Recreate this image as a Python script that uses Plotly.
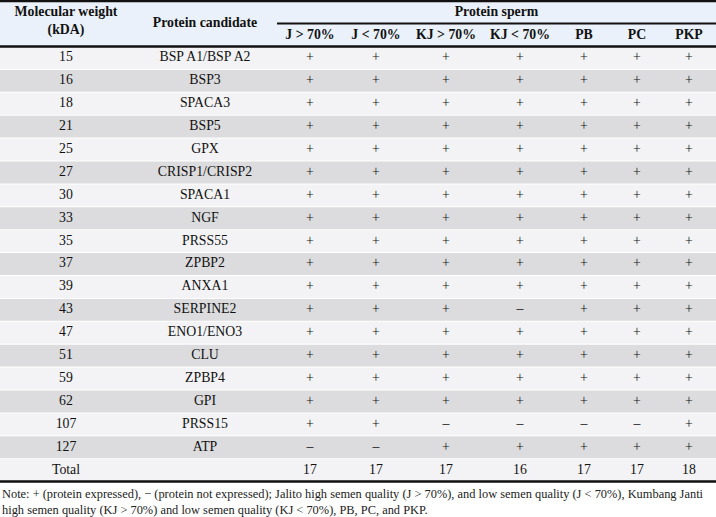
import plotly.graph_objects as go

# ---------------------------------------------------------------- data
mol_weight = ["15", "16", "18", "21", "25", "27", "30", "33", "35", "37",
              "39", "43", "47", "51", "59", "62", "107", "127"]
proteins = ["BSP A1/BSP A2", "BSP3", "SPACA3", "BSP5", "GPX", "CRISP1/CRISP2",
            "SPACA1", "NGF", "PRSS55", "ZPBP2", "ANXA1", "SERPINE2",
            "ENO1/ENO3", "CLU", "ZPBP4", "GPI", "PRSS15", "ATP"]
groups = ["J > 70%", "J < 70%", "KJ > 70%", "KJ < 70%", "PB", "PC", "PKP"]

# 1 = protein expressed (+), 0 = not expressed (–); one list per group
j_high = [1, 1, 1, 1, 1, 1, 1, 1, 1, 1, 1, 1, 1, 1, 1, 1, 1, 0]
j_low = [1, 1, 1, 1, 1, 1, 1, 1, 1, 1, 1, 1, 1, 1, 1, 1, 1, 0]
kj_high = [1, 1, 1, 1, 1, 1, 1, 1, 1, 1, 1, 1, 1, 1, 1, 1, 0, 1]
kj_low = [1, 1, 1, 1, 1, 1, 1, 1, 1, 1, 1, 0, 1, 1, 1, 1, 0, 1]
pb = [1, 1, 1, 1, 1, 1, 1, 1, 1, 1, 1, 1, 1, 1, 1, 1, 0, 1]
pc = [1, 1, 1, 1, 1, 1, 1, 1, 1, 1, 1, 1, 1, 1, 1, 1, 0, 1]
pkp = [1, 1, 1, 1, 1, 1, 1, 1, 1, 1, 1, 1, 1, 1, 1, 1, 1, 1]
totals = [17, 17, 17, 16, 17, 17, 18]

note = ("Note: + (protein expressed), \u2212 (protein not expressed); Jalito high semen quality "
        "(J > 70%), and low semen quality (J < 70%), Kumbang Janti<br>high semen quality "
        "(KJ > 70%) and low semen quality (KJ < 70%), PB, PC, and PKP.")

# ---------------------------------------------------------------- layout
W, H = 716, 517
COL_X = [66, 205, 310, 376, 446, 520, 584, 637, 689]
SPERM_LEFT = 277
HEAD_TOP = 1
HEAD_MID = 23.5
HEAD_BOT = 46.5
ROW_H = 22.9
FONT = "Liberation Serif, Times New Roman, serif"
FS = 13.8
HEAD_BG = "#eaf1fa"
ROW_BG = ["#f3f3f5", "#dcdcde"]

series = [j_high, j_low, kj_high, kj_low, pb, pc, pkp]
n_rows = len(proteins) + 1  # plus total row


def row_center(i):
    return HEAD_BOT + (i + 0.5) * ROW_H


table_bottom = HEAD_BOT + n_rows * ROW_H

fig = go.Figure()

# body text
xs, ys, ts = [], [], []
for i in range(len(proteins)):
    xs += [COL_X[0], COL_X[1]]
    ys += [row_center(i)] * 2
    ts += [mol_weight[i], proteins[i]]
    for g, s in enumerate(series):
        xs.append(COL_X[2 + g])
        ys.append(row_center(i))
        ts.append("+" if s[i] else "\u2013")
xs.append(COL_X[0])
ys.append(row_center(len(proteins)))
ts.append("Total")
for g, t in enumerate(totals):
    xs.append(COL_X[2 + g])
    ys.append(row_center(len(proteins)))
    ts.append(str(t))

fig.add_trace(go.Scatter(x=xs, y=ys, text=ts, mode="text",
                         textfont=dict(family=FONT, size=FS, color="#111111"),
                         hoverinfo="skip", showlegend=False))

# header text
hx = [COL_X[0], COL_X[0], COL_X[1], (SPERM_LEFT + W) / 2] + COL_X[2:]
hy = [13, 31, 23.5, 12.5] + [35.5] * len(groups)
ht = ["Molecular weight", "(kDA)", "Protein candidate", "Protein sperm"] + groups
fig.add_trace(go.Scatter(x=hx, y=hy, text=["<b>%s</b>" % t for t in ht], mode="text",
                         textfont=dict(family=FONT, size=FS, color="#111111"),
                         hoverinfo="skip", showlegend=False))

# backgrounds and rules
shapes = [dict(type="rect", x0=0, x1=W, y0=HEAD_TOP, y1=HEAD_BOT,
               fillcolor=HEAD_BG, line_width=0, layer="below")]
for i in range(n_rows):
    y0 = HEAD_BOT + i * ROW_H
    shapes.append(dict(type="rect", x0=0, x1=W, y0=y0 + 0.5, y1=y0 + ROW_H - 0.5,
                       fillcolor=ROW_BG[i % 2], line_width=0, layer="below"))
for y, w, x0 in [(HEAD_TOP, 2.5, 0), (HEAD_MID, 2, SPERM_LEFT),
                 (HEAD_BOT, 2.5, 0), (table_bottom, 2.5, 0)]:
    shapes.append(dict(type="line", x0=x0, x1=W, y0=y, y1=y,
                       line=dict(color="#111111", width=w)))

fig.add_annotation(x=0, y=table_bottom + 3, xref="x", yref="y", text=note,
                   showarrow=False, xanchor="left", yanchor="top", align="left",
                   font=dict(family=FONT, size=12.4, color="#222222"))

fig.update_layout(
    width=W, height=H, margin=dict(l=0, r=0, t=0, b=0),
    paper_bgcolor="white", plot_bgcolor="white", shapes=shapes,
    xaxis=dict(range=[0, W], visible=False, fixedrange=True),
    yaxis=dict(range=[H, 0], visible=False, fixedrange=True),
)

fig.write_html("out.html", config={"displayModeBar": False},
               post_script="document.body.style.margin='0';")
